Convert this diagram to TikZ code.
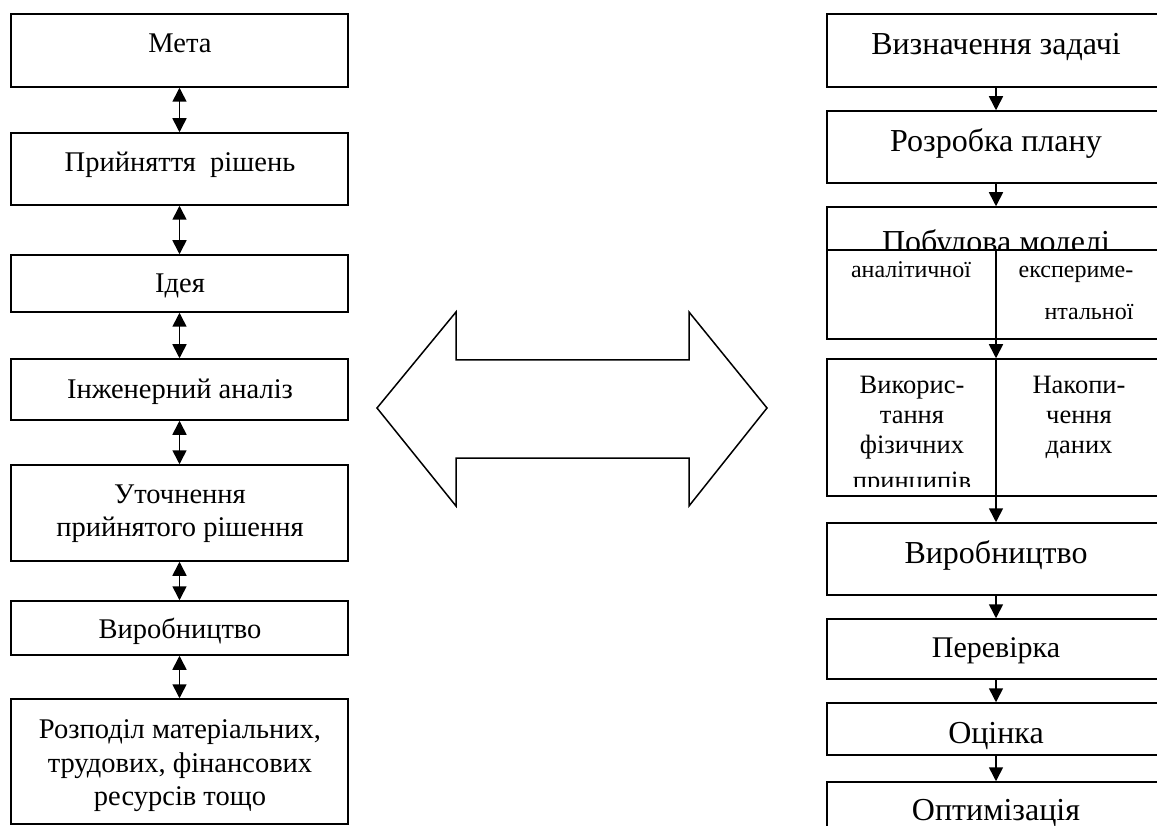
\documentclass[tikz,border=0pt]{standalone}
\usepackage{fontspec}
\setmainfont{Liberation Serif}
\usetikzlibrary{arrows.meta}
\begin{document}
\begin{tikzpicture}[x=1pt,y=-1pt,
  box/.style={draw,line width=1.5pt,inner sep=0pt},
  lbox/.style={box,minimum width=337pt},
  rbox/.style={box,minimum width=338pt},
  txt/.style={anchor=base,inner sep=0pt},
  lt/.style={txt,font=\fontsize{28.5}{34}\selectfont},
  rt/.style={txt,font=\fontsize{32}{38}\selectfont},
  mt/.style={txt,font=\fontsize{30}{36}\selectfont},
  st/.style={txt,font=\fontsize{26.5}{31}\selectfont},
  ss/.style={txt,font=\fontsize{24}{28}\selectfont},
  dbl/.style={line width=1.6pt,{Triangle[width=14pt,length=14pt]}-{Triangle[width=14pt,length=14pt]}},
  one/.style={line width=1.6pt,-{Triangle[width=14pt,length=14pt]}},
  thin/.style={line width=1.5pt},
]
\useasboundingbox (0,0) rectangle (1157,826);
\clip (0,0) rectangle (1157,826);
\fill[white] (0,0) rectangle (1157,826);

% ---------- left column ----------
\node[lbox,minimum height=73pt] (L1) at (179.5,50.5) {};
\node[lbox,minimum height=72pt] (L2) at (179.5,169) {};
\node[lbox,minimum height=57pt] (L3) at (179.5,283.5) {};
\node[lbox,minimum height=61pt] (L4) at (179.5,389.5) {};
\node[lbox,minimum height=96pt] (L5) at (179.5,513) {};
\node[lbox,minimum height=54pt] (L6) at (179.5,628) {};
\node[lbox,minimum height=125pt] (L7) at (179.5,761.5) {};

\node[lt] (t1) at (180,53) {Мета};
\node[lt] (t2) at (180,172) {Прийняття\ \ рішень};
\node[lt] (t3) at (180,293) {Ідея};
\node[lt] (t4) at (180,398) {Інженерний аналіз};
\node[lt] (t5a) at (180,503) {Уточнення};
\node[lt] (t5b) at (180,536) {прийнятого рішення};
\node[lt] (t6) at (180,638) {Виробництво};
\node[lt] (t7a) at (180,738) {Розподіл матеріальних,};
\node[lt] (t7b) at (180,772) {трудових, фінансових};
\node[lt] (t7c) at (180,805) {ресурсів тощо};

\draw[dbl] (L1) -- (L2);
\draw[dbl] (L2) -- (L3);
\draw[dbl] (L3) -- (L4);
\draw[dbl] (L4) -- (L5);
\draw[dbl] (L5) -- (L6);
\draw[dbl] (L6) -- (L7);

% ---------- central double arrow ----------
\draw[thin,line join=miter] (377,408) -- (456,312) -- (456,360) -- (689,360) -- (689,312)
  -- (767,408) -- (689,506) -- (689,458) -- (456,458) -- (456,506) -- cycle;

% ---------- right column ----------
\node[rbox,minimum height=73pt] (R1) at (996,50.5) {};
\node[rbox,minimum height=72pt] (R2) at (996,147) {};
\node[rbox,minimum height=132pt] (R3) at (996,273) {};
\node[rbox,minimum height=137pt] (R4) at (996,427.5) {};
\node[rbox,minimum height=72pt] (R5) at (996,559) {};
\node[rbox,minimum height=60pt] (R6) at (996,649) {};
\node[rbox,minimum height=52pt] (R7) at (996,729) {};
\node[rbox,minimum height=78pt] (R8) at (996,821) {};

\coordinate (r3m) at (996,250);
\draw[thin] (R3.west |- r3m) -- (R3.east |- r3m);
\draw[thin] (r3m) -- (R3.south);
\draw[thin] (R4.north) -- (R4.south);

\node[rt] (u1) at (996,55) {Визначення задачі};
\node[rt] (u2) at (996,152) {Розробка плану};
\begin{scope}
  \clip (827,207) rectangle (1165,249);
  \node[rt] (u3) at (996,253) {Побудова моделі};
\end{scope}
\node[ss] (u3a) at (911,278) {аналітичної};
\node[ss] (u3b) at (1076,278) {експериме-};
\node[ss] (u3c) at (1089,320) {нтальної};
\node[st] (u4a) at (912,393) {Викорис-};
\node[st] (u4b) at (912,423) {тання};
\node[st] (u4c) at (912,453) {фізичних};
\begin{scope}
  \clip (827,440) rectangle (995,486);
  \node[st] (u4d) at (912,489) {принципів};
\end{scope}
\node[st] (u4e) at (1079,393) {Накопи-};
\node[st] (u4f) at (1079,423) {чення};
\node[st] (u4g) at (1079,453) {даних};
\node[rt] (u5) at (996,563) {Виробництво};
\node[mt] (u6) at (996,657) {Перевірка};
\node[rt] (u7) at (996,743) {Оцінка};
\node[rt] (u8) at (996,820) {Оптимізація};

\draw[one] (R1) -- (R2);
\draw[one] (R2) -- (R3);
\draw[one] (R3) -- (R4);
\draw[one] (R4) -- (R5);
\draw[one] (R5) -- (R6);
\draw[one] (R6) -- (R7);
\draw[one] (R7) -- (R8);
\end{tikzpicture}
\end{document}
